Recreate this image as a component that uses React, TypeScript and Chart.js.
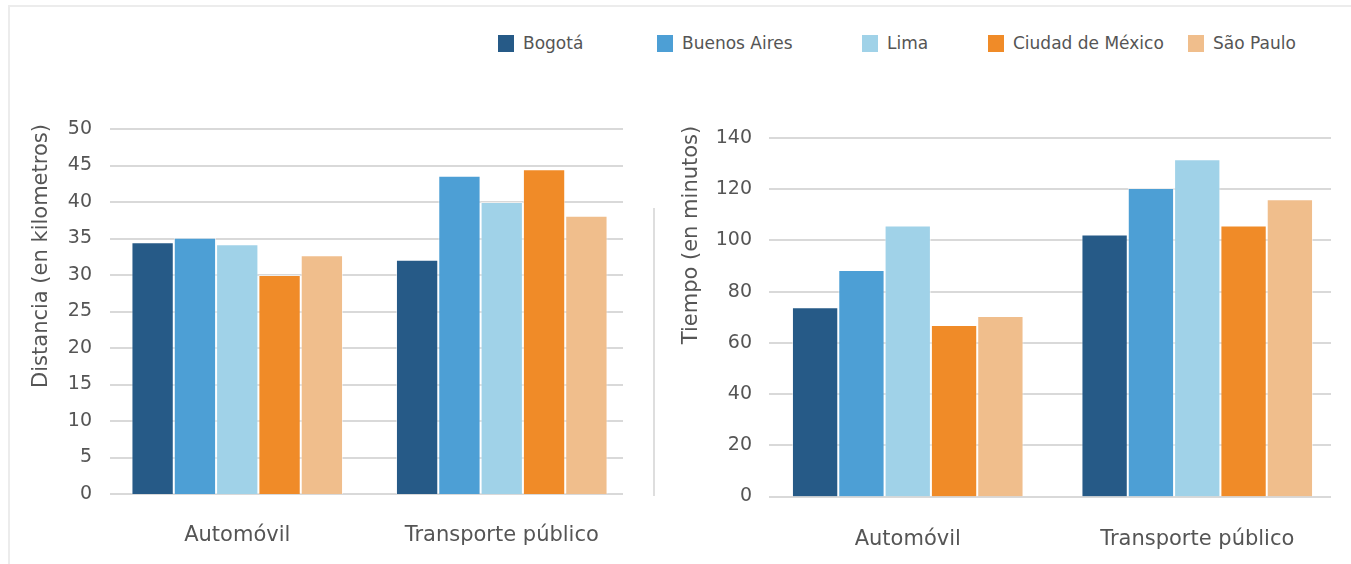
import React, { useEffect, useRef } from "react";
import { Chart, registerables } from "chart.js";

Chart.register(...registerables);

// ---- data ----
const categories = ["Automóvil", "Transporte público"];
const cities = ["Bogotá", "Buenos Aires", "Lima", "Ciudad de México", "São Paulo"];
const cityColors = ["#265a87", "#4d9fd5", "#a0d2e8", "#f08b28", "#f0be8c"];

// distance travelled (km)
const distanceBogota = [34.5, 32.1];
const distanceBuenosAires = [35.1, 43.6];
const distanceLima = [34.2, 40.0];
const distanceMexico = [30.0, 44.5];
const distanceSaoPaulo = [32.7, 38.1];

// travel time (minutes)
const timeBogota = [73.9, 102.3];
const timeBuenosAires = [88.5, 120.5];
const timeLima = [105.8, 131.7];
const timeMexico = [67.0, 105.8];
const timeSaoPaulo = [70.5, 116.1];

const distanceTicks = [0, 5, 10, 15, 20, 25, 30, 35, 40, 45, 50];
const timeTicks = [0, 20, 40, 60, 80, 100, 120, 140];

const distanceTitle = "Distancia (en kilometros)";
const timeTitle = "Tiempo (en minutos)";

// ---- styling ----
const FONT = "'DejaVu Sans', sans-serif";
const TEXT = "#555555";
const GRID = "#d9d9d9";
const CANVAS_H = 564;

type Panel = {
  left: number;
  width: number;
  area: { left: number; right: number; top: number; bottom: number };
  gridFrom: number;
  gridTo: number;
  titleX: number;
  titleY: number;
  tickPad: number;
  labelPad: number;
};

const distancePanel: Panel = {
  left: 0,
  width: 660,
  area: { left: 105, right: 634, top: 129, bottom: 494 },
  gridFrom: 110,
  gridTo: 623,
  titleX: 42,
  titleY: 256,
  tickPad: 13,
  labelPad: 21,
};

const timePanel: Panel = {
  left: 660,
  width: 691,
  area: { left: 103, right: 682, top: 138, bottom: 496.5 },
  gridFrom: 109,
  gridTo: 671,
  titleX: 32,
  titleY: 235,
  tickPad: 11,
  labelPad: 22,
};

const legendX = [498, 657, 862, 988, 1188];

function BarPanel({
  series,
  ticks,
  title,
  panel,
}: {
  series: number[][];
  ticks: number[];
  title: string;
  panel: Panel;
}) {
  const ref = useRef<HTMLCanvasElement | null>(null);

  useEffect(() => {
    if (!ref.current) return;
    const bottomPad = 10;
    const step = ticks[1] - ticks[0];

    // horizontal guide lines limited to a fixed band
    const guideLines = {
      id: "guideLines",
      beforeDatasetsDraw(chart: any) {
        const { ctx } = chart;
        const y = chart.scales.y;
        ctx.save();
        ctx.strokeStyle = GRID;
        ctx.lineWidth = 2;
        ticks.forEach((t) => {
          const py = Math.round(y.getPixelForValue(t));
          ctx.beginPath();
          ctx.moveTo(panel.gridFrom, py);
          ctx.lineTo(panel.gridTo, py);
          ctx.stroke();
        });
        ctx.restore();
      },
    };

    // rotated y-axis title
    const axisTitle = {
      id: "axisTitle",
      afterDraw(chart: any) {
        const { ctx } = chart;
        ctx.save();
        ctx.translate(panel.titleX, panel.titleY);
        ctx.rotate(-Math.PI / 2);
        ctx.font = `21px ${FONT}`;
        ctx.fillStyle = TEXT;
        ctx.textAlign = "center";
        ctx.textBaseline = "middle";
        ctx.fillText(title, 0, 0);
        ctx.restore();
      },
    };

    const chart = new Chart(ref.current, {
      type: "bar",
      data: {
        labels: categories,
        datasets: cities.map((c, i) => ({
          label: c,
          data: series[i],
          backgroundColor: cityColors[i],
          borderColor: "rgba(255,255,255,0.55)",
          borderWidth: 1,
          barPercentage: 1,
          categoryPercentage: 0.8,
        })),
      },
      options: {
        animation: false,
        responsive: false,
        maintainAspectRatio: false,
        layout: {
          padding: {
            left: 0,
            top: panel.area.top,
            right: panel.width - panel.area.right,
            bottom: bottomPad,
          },
        },
        plugins: {
          legend: { display: false },
          tooltip: { enabled: false },
          title: { display: false },
        },
        scales: {
          x: {
            grid: { display: false },
            border: { display: false },
            ticks: {
              color: TEXT,
              font: { family: FONT, size: 21 },
              padding: panel.labelPad,
              maxRotation: 0,
            },
            afterFit(scale: any) {
              scale.height = CANVAS_H - panel.area.bottom - bottomPad;
            },
          },
          y: {
            min: ticks[0],
            max: ticks[ticks.length - 1],
            grid: { display: false, drawTicks: false },
            border: { display: false },
            ticks: {
              stepSize: step,
              color: TEXT,
              font: { family: FONT, size: 19 },
              padding: panel.tickPad,
            },
            afterFit(scale: any) {
              scale.width = panel.area.left;
            },
          },
        },
      },
      plugins: [guideLines, axisTitle],
    });
    return () => chart.destroy();
  }, []);

  return (
    <canvas
      ref={ref}
      width={panel.width}
      height={CANVAS_H}
      style={{
        position: "absolute",
        left: panel.left,
        top: 0,
        width: panel.width,
        height: CANVAS_H,
      }}
    />
  );
}

export default function App() {
  return (
    <div
      style={{
        position: "fixed",
        left: 0,
        top: 0,
        width: 1351,
        height: 564,
        background: "#ffffff",
        overflow: "hidden",
        fontFamily: FONT,
      }}
    >
      <div
        style={{
          position: "absolute",
          left: 8,
          top: 5,
          width: 1500,
          height: 700,
          borderTop: "2px solid #ececec",
          borderLeft: "2px solid #ececec",
        }}
      />
      <div
        style={{
          position: "absolute",
          left: 653,
          top: 208,
          width: 2,
          height: 288,
          background: "#dedede",
        }}
      />
      {cities.map((c, i) => (
        <div key={c}>
          <div
            style={{
              position: "absolute",
              left: legendX[i],
              top: 35,
              width: 16,
              height: 17,
              background: cityColors[i],
            }}
          />
          <div
            style={{
              position: "absolute",
              left: legendX[i] + 25,
              top: 33,
              fontSize: 17,
              lineHeight: "20px",
              color: TEXT,
              whiteSpace: "nowrap",
            }}
          >
            {c}
          </div>
        </div>
      ))}
      <BarPanel
        series={[distanceBogota, distanceBuenosAires, distanceLima, distanceMexico, distanceSaoPaulo]}
        ticks={distanceTicks}
        title={distanceTitle}
        panel={distancePanel}
      />
      <BarPanel
        series={[timeBogota, timeBuenosAires, timeLima, timeMexico, timeSaoPaulo]}
        ticks={timeTicks}
        title={timeTitle}
        panel={timePanel}
      />
    </div>
  );
}
